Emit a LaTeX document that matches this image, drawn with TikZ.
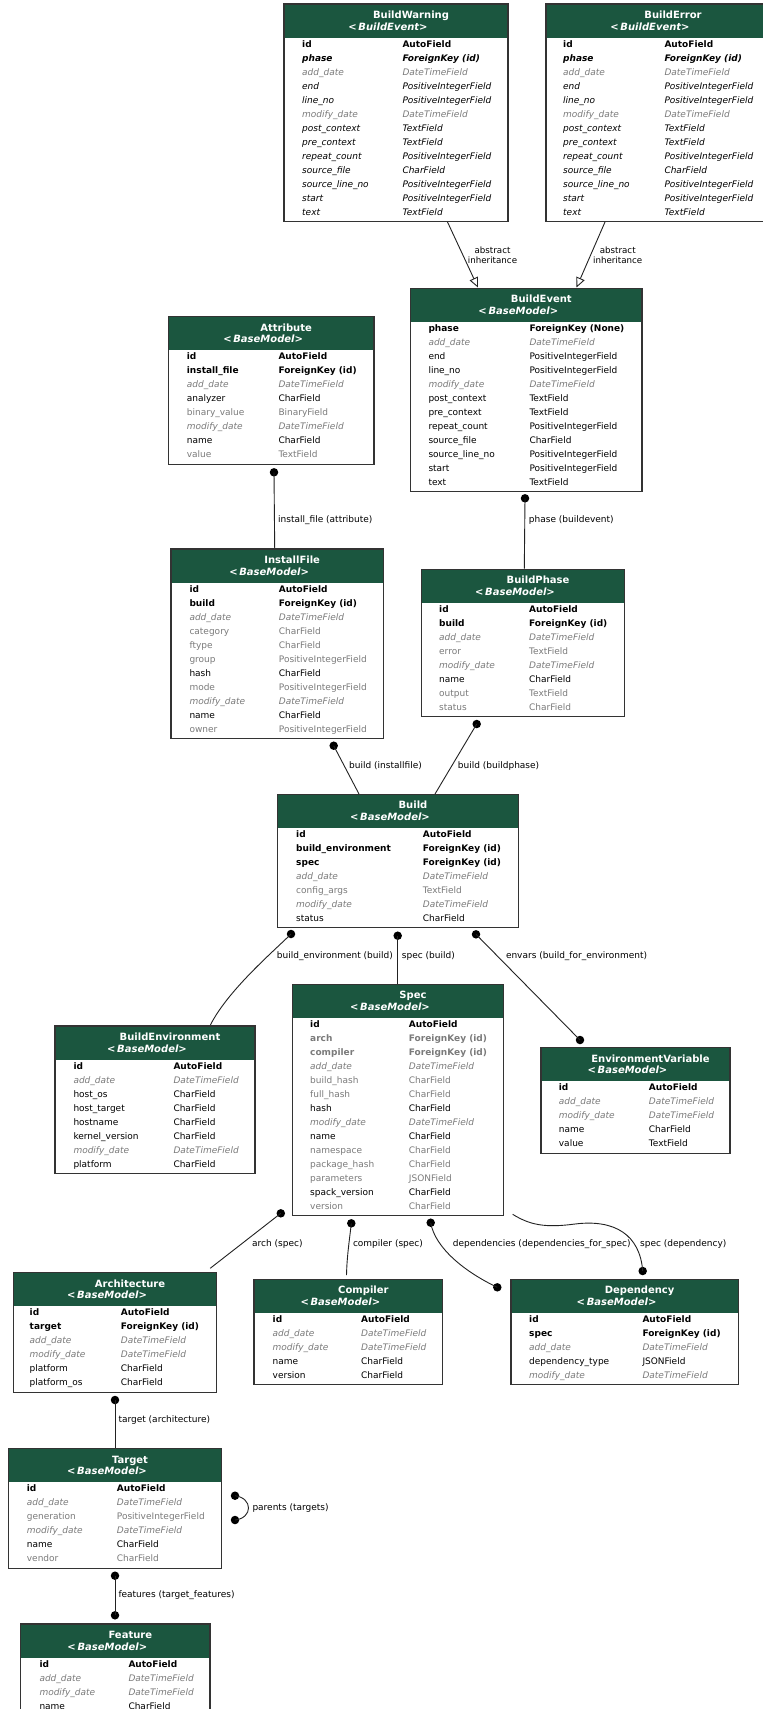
\documentclass[tikz,border=0pt]{standalone}
\usepackage{fontspec}
\setmainfont{DejaVu Sans}
\usetikzlibrary{arrows.meta}
\definecolor{hdr}{HTML}{1B563F}
\definecolor{fgray}{HTML}{7B7B7B}
\definecolor{edgec}{HTML}{222222}
\newcommand\fsB{\bfseries\color{black}}
\newcommand\fsBI{\bfseries\itshape\color{black}}
\newcommand\fsI{\itshape\color{black}}
\newcommand\fsGI{\itshape\color{fgray}}
\newcommand\fsG{\color{fgray}}
\newcommand\fsN{\color{black}}
\newcommand\fsGB{\bfseries\color{fgray}}
\tikzset{
 erframe/.style={draw=black!80, line width=1.2pt, fill=white, inner sep=0pt, outer sep=0pt},
 rowtxt/.style={anchor=base west, inner sep=0pt, font=\fontsize{9}{11}\selectfont},
 ttl/.style={anchor=base, inner sep=0pt, text=white, font=\fontsize{10}{12}\selectfont\bfseries},
 sttl/.style={anchor=base, inner sep=0pt, text=white, font=\fontsize{10}{12}\selectfont\bfseries},
 lbl/.style={anchor=base west, inner sep=0pt, font=\fontsize{9}{11}\selectfont},
 lbltwo/.style={anchor=center, inner sep=0pt, align=center, font=\fontsize{8.7}{9.6}\selectfont},
 conn/.style={draw=edgec, line width=0.9pt},
 dotn/.style={circle, fill=black, inner sep=0pt, minimum size=8.5pt},
 inh/.style={conn, -{Triangle[open, length=10pt, width=9pt]}},
}
% #1 name, #2 x, #3 y, #4 width, #5 rows, #6 title, #7 subtitle
\newcommand\erbox[7]{%
 \pgfmathsetmacro\erh{35.5+14*#5}%
 \node[erframe, minimum width=#4pt, minimum height=\erh pt, anchor=north west] (#1) at (#2,#3) {};%
 \fill[hdr] ({#2+0.7},{#3+0.7}) rectangle ({#2+#4-0.7},{#3+33.5});%
 \draw[draw=black!80, line width=1.2pt] (#1.north west) rectangle (#1.south east);%
 \node[ttl] (#1-title) at ({#2+#4/2+15},{#3+14.6}) {#6};%
 \node[sttl] (#1-sub) at ({#2+#4/2-8},{#3+26}) {<\,\textit{#7>}};%
}
% #1 prefix, #2 x of names, #3 x of types, #4 y top, #5 list
\newcommand\errows[5]{%
 \foreach \f/\a/\b [count=\i from 0] in {#5} {%
  \node[rowtxt] (#1-n\i) at ({#2},{#4+43+14*\i}) {\f\a};
  \node[rowtxt] (#1-t\i) at ({#3},{#4+43+14*\i}) {\f\b};
 }%
}
\begin{document}
\begin{tikzpicture}[x=1pt,y=-1pt]
\useasboundingbox (0,0) rectangle (763,1709);
\clip (0,0) rectangle (763,1709);
\fill[white] (0,0) rectangle (763,1709);

% ---------- BuildWarning
\erbox{bwarn}{284}{4}{224}{13}{BuildWarning}{BuildEvent}
\errows{bwarn}{302}{402.3}{4}{\fsB/id/AutoField, \fsBI/phase/ForeignKey (id), \fsGI/add\_date/DateTimeField, \fsI/end/PositiveIntegerField, \fsI/line\_no/PositiveIntegerField, \fsGI/modify\_date/DateTimeField, \fsI/post\_context/TextField, \fsI/pre\_context/TextField, \fsI/repeat\_count/PositiveIntegerField, \fsI/source\_file/CharField, \fsI/source\_line\_no/PositiveIntegerField, \fsI/start/PositiveIntegerField, \fsI/text/TextField}

% ---------- BuildError
\erbox{berr}{546}{4}{224}{13}{BuildError}{BuildEvent}
\errows{berr}{563}{664.3}{4}{\fsB/id/AutoField, \fsBI/phase/ForeignKey (id), \fsGI/add\_date/DateTimeField, \fsI/end/PositiveIntegerField, \fsI/line\_no/PositiveIntegerField, \fsGI/modify\_date/DateTimeField, \fsI/post\_context/TextField, \fsI/pre\_context/TextField, \fsI/repeat\_count/PositiveIntegerField, \fsI/source\_file/CharField, \fsI/source\_line\_no/PositiveIntegerField, \fsI/start/PositiveIntegerField, \fsI/text/TextField}

% ---------- BuildEvent
\erbox{bevent}{410.7}{288.3}{231.3}{12}{BuildEvent}{BaseModel}
\errows{bevent}{428.3}{529.3}{288.3}{\fsB/phase/ForeignKey (None), \fsGI/add\_date/DateTimeField, \fsN/end/PositiveIntegerField, \fsN/line\_no/PositiveIntegerField, \fsGI/modify\_date/DateTimeField, \fsN/post\_context/TextField, \fsN/pre\_context/TextField, \fsN/repeat\_count/PositiveIntegerField, \fsN/source\_file/CharField, \fsN/source\_line\_no/PositiveIntegerField, \fsN/start/PositiveIntegerField, \fsN/text/TextField}

% ---------- Attribute
\erbox{attr}{168.3}{316.7}{205.7}{8}{Attribute}{BaseModel}
\errows{attr}{186.7}{278.3}{316.7}{\fsB/id/AutoField, \fsB/install\_file/ForeignKey (id), \fsGI/add\_date/DateTimeField, \fsN/analyzer/CharField, \fsG/binary\_value/BinaryField, \fsGI/modify\_date/DateTimeField, \fsN/name/CharField, \fsG/value/TextField}

% ---------- InstallFile
\erbox{ifile}{171}{549}{212.3}{11}{InstallFile}{BaseModel}
\errows{ifile}{189.3}{278.7}{549}{\fsB/id/AutoField, \fsB/build/ForeignKey (id), \fsGI/add\_date/DateTimeField, \fsG/category/CharField, \fsG/ftype/CharField, \fsG/group/PositiveIntegerField, \fsN/hash/CharField, \fsG/mode/PositiveIntegerField, \fsGI/modify\_date/DateTimeField, \fsN/name/CharField, \fsG/owner/PositiveIntegerField}

% ---------- BuildPhase
\erbox{bphase}{421.7}{569.3}{202.6}{8}{BuildPhase}{BaseModel}
\errows{bphase}{439}{529}{569.3}{\fsB/id/AutoField, \fsB/build/ForeignKey (id), \fsGI/add\_date/DateTimeField, \fsG/error/TextField, \fsGI/modify\_date/DateTimeField, \fsN/name/CharField, \fsG/output/TextField, \fsG/status/CharField}

% ---------- Build
\erbox{build}{277.7}{794.3}{240.6}{7}{Build}{BaseModel}
\errows{build}{296}{422.7}{794.3}{\fsB/id/AutoField, \fsB/build\_environment/ForeignKey (id), \fsB/spec/ForeignKey (id), \fsGI/add\_date/DateTimeField, \fsG/config\_args/TextField, \fsGI/modify\_date/DateTimeField, \fsN/status/CharField}

% ---------- BuildEnvironment
\erbox{benv}{55}{1026}{200}{8}{BuildEnvironment}{BaseModel}
\errows{benv}{73.3}{173.3}{1026}{\fsB/id/AutoField, \fsGI/add\_date/DateTimeField, \fsN/host\_os/CharField, \fsN/host\_target/CharField, \fsN/hostname/CharField, \fsN/kernel\_version/CharField, \fsGI/modify\_date/DateTimeField, \fsN/platform/CharField}

% ---------- Spec
\erbox{spec}{292.3}{984.3}{211.4}{14}{Spec}{BaseModel}
\errows{spec}{310}{408.7}{984.3}{\fsB/id/AutoField, \fsGB/arch/ForeignKey (id), \fsGB/compiler/ForeignKey (id), \fsGI/add\_date/DateTimeField, \fsG/build\_hash/CharField, \fsG/full\_hash/CharField, \fsN/hash/CharField, \fsGI/modify\_date/DateTimeField, \fsN/name/CharField, \fsG/namespace/CharField, \fsG/package\_hash/CharField, \fsG/parameters/JSONField, \fsN/spack\_version/CharField, \fsG/version/CharField}

% ---------- EnvironmentVariable
\erbox{envvar}{541}{1047.7}{189}{5}{EnvironmentVariable}{BaseModel}
\errows{envvar}{558.7}{648.7}{1047.7}{\fsB/id/AutoField, \fsGI/add\_date/DateTimeField, \fsGI/modify\_date/DateTimeField, \fsN/name/CharField, \fsN/value/TextField}

% ---------- Architecture
\erbox{arch}{13.6}{1272.7}{202.9}{6}{Architecture}{BaseModel}
\errows{arch}{29.5}{120.7}{1272.7}{\fsB/id/AutoField, \fsB/target/ForeignKey (id), \fsGI/add\_date/DateTimeField, \fsGI/modify\_date/DateTimeField, \fsN/platform/CharField, \fsN/platform\_os/CharField}

% ---------- Compiler
\erbox{comp}{254}{1279.3}{188.8}{5}{Compiler}{BaseModel}
\errows{comp}{272.5}{361}{1279.3}{\fsB/id/AutoField, \fsGI/add\_date/DateTimeField, \fsGI/modify\_date/DateTimeField, \fsN/name/CharField, \fsN/version/CharField}

% ---------- Dependency
\erbox{dep}{511}{1279.3}{227.2}{5}{Dependency}{BaseModel}
\errows{dep}{529}{642.3}{1279.3}{\fsB/id/AutoField, \fsB/spec/ForeignKey (id), \fsGI/add\_date/DateTimeField, \fsN/dependency\_type/JSONField, \fsGI/modify\_date/DateTimeField}

% ---------- Target
\erbox{target}{8.3}{1448.7}{213.4}{6}{Target}{BaseModel}
\errows{target}{26.7}{116.7}{1448.7}{\fsB/id/AutoField, \fsGI/add\_date/DateTimeField, \fsG/generation/PositiveIntegerField, \fsGI/modify\_date/DateTimeField, \fsN/name/CharField, \fsG/vendor/CharField}

% ---------- Feature
\erbox{feat}{20.7}{1624}{189.3}{4}{Feature}{BaseModel}
\errows{feat}{39.3}{128.3}{1624}{\fsB/id/AutoField, \fsGI/add\_date/DateTimeField, \fsGI/modify\_date/DateTimeField, \fsN/name/CharField}

% ================= connectors
% inheritance
\coordinate (bwarn-out) at (447.5,222);
\coordinate (bevent-in1) at (478,287.5);
\draw[inh] (bwarn-out) -- (bevent-in1);
\node[lbltwo] (l-inh1) at (492.5,255) {abstract\\inheritance};
\coordinate (berr-out) at (605,222);
\coordinate (bevent-in2) at (576.5,287.5);
\draw[inh] (berr-out) -- (bevent-in2);
\node[lbltwo] (l-inh2) at (617.7,255) {abstract\\inheritance};

% Attribute -> InstallFile
\node[dotn] (d-attr) at (274,472.3) {};
\coordinate (ifile-in) at (274.7,548);
\draw[conn] (d-attr.center) -- (ifile-in);
\node[lbl] (l-attr) at (278,522.3) {install\_file (attribute)};

% BuildEvent -> BuildPhase
\node[dotn] (d-bevent) at (525,498.3) {};
\coordinate (bphase-in) at (524.3,568.5);
\draw[conn] (d-bevent.center) -- (bphase-in);
\node[lbl] (l-bevent) at (528.7,522.3) {phase (buildevent)};

% InstallFile -> Build
\node[dotn] (d-ifile) at (333.7,745.7) {};
\coordinate (build-in1) at (359,794);
\draw[conn] (d-ifile.center) -- (build-in1);
\node[lbl] (l-ifile) at (349,768.3) {build (installfile)};

% BuildPhase -> Build
\node[dotn] (d-bphase) at (476.7,724) {};
\coordinate (build-in2) at (435,794);
\draw[conn] (d-bphase.center) -- (build-in2);
\node[lbl] (l-bphase) at (457.7,768.3) {build (buildphase)};

% Build -> BuildEnvironment
\node[dotn] (d-build1) at (291,934) {};
\coordinate (benv-in) at (210.4,1025);
\draw[conn] (d-build1.center) .. controls (275,950) and (228,990) .. (benv-in);
\node[lbl] (l-benv) at (276.7,958.3) {build\_environment (build)};

% Build -> Spec
\node[dotn] (d-build2) at (397.7,935.7) {};
\coordinate (spec-in) at (397.7,984);
\draw[conn] (d-build2.center) -- (spec-in);
\node[lbl] (l-spec) at (401.7,958.3) {spec (build)};

% Build -> EnvironmentVariable
\node[dotn] (d-build3) at (476,934.3) {};
\node[dotn] (d-envvar) at (580,1040) {};
\draw[conn] (d-build3.center) -- (d-envvar.center);
\node[lbl] (l-envvar) at (505.8,958.3) {envars (build\_for\_environment)};

% Spec -> Architecture
\node[dotn] (d-spec1) at (280.8,1213.3) {};
\coordinate (arch-in) at (210.2,1268.3);
\draw[conn] (d-spec1.center) -- (arch-in);
\node[lbl] (l-arch) at (252,1246.6) {arch (spec)};

% Spec -> Compiler
\node[dotn] (d-spec2) at (351.3,1223.3) {};
\coordinate (comp-in) at (346.5,1275);
\draw[conn] (d-spec2.center) .. controls (349.5,1240) and (347,1255) .. (comp-in);
\node[lbl] (l-comp) at (352.8,1246.6) {compiler (spec)};

% Spec -> Dependency (dependencies)
\node[dotn] (d-spec3) at (430.7,1222.7) {};
\node[dotn] (d-dep1) at (497.3,1287.3) {};
\draw[conn] (d-spec3.center) .. controls (435,1248) and (465,1272) .. (d-dep1.center);
\node[lbl] (l-deps) at (452.6,1246.6) {dependencies (dependencies\_for\_spec)};

% Dependency -> Spec (spec)
\coordinate (spec-out) at (512.7,1214.3);
\coordinate (dep-mid) at (575,1224);
\node[dotn] (d-dep2) at (642.7,1271) {};
\draw[conn] (spec-out) .. controls (530,1225) and (545,1228) .. (dep-mid) .. controls (615,1219) and (640,1235) .. (d-dep2.center);
\node[lbl] (l-dep) at (640,1246.6) {spec (dependency)};

% Architecture -> Target
\node[dotn] (d-arch) at (115,1400) {};
\coordinate (target-in) at (115,1447.5);
\draw[conn] (d-arch.center) -- (target-in);
\node[lbl] (l-target) at (118.3,1422.3) {target (architecture)};

% Target self loop
\node[dotn] (d-t1) at (235,1495.7) {};
\node[dotn] (d-t2) at (235,1520) {};
\draw[conn] (d-t1.center) .. controls (253,1498) and (253,1518) .. (d-t2.center);
\node[lbl] (l-parents) at (252.3,1510.6) {parents (targets)};

% Target -> Feature
\node[dotn] (d-t3) at (115,1575.7) {};
\node[dotn] (d-feat) at (115,1615.3) {};
\draw[conn] (d-t3.center) -- (d-feat.center);
\node[lbl] (l-feat) at (118.3,1597.6) {features (target\_features)};
\end{tikzpicture}
\end{document}
